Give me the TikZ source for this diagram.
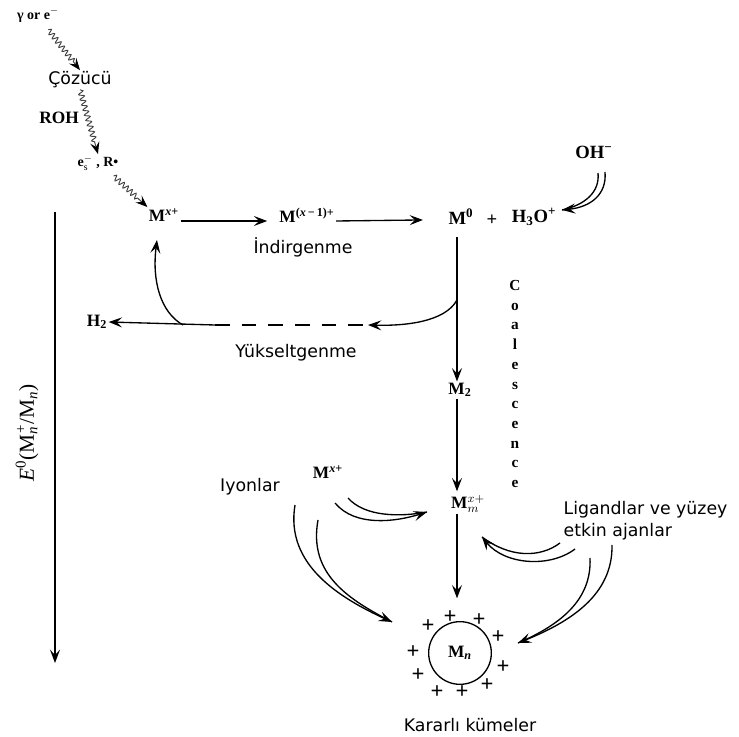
\documentclass[tikz,border=0pt]{standalone}
\usepackage{fontspec}
\setmainfont{Liberation Serif}
\newfontfamily\trfont{DejaVu Sans}
\usetikzlibrary{arrows.meta,decorations.pathmorphing}
\newcommand{\xsup}[1]{\textsuperscript{\textit{x}#1}}
\begin{document}
\begin{tikzpicture}[x=0.75pt,y=-0.75pt,
  chem/.style={font=\bfseries\fontsize{13}{15}\selectfont, inner sep=1pt},
  chemL/.style={font=\bfseries\fontsize{14}{16}\selectfont, inner sep=1pt},
  small/.style={font=\bfseries\fontsize{10.5}{12}\selectfont, inner sep=1pt},
  trlbl/.style={font=\trfont\fontsize{13}{16.5}\selectfont, inner sep=1pt},
  tip/.style={-{Stealth[length=10pt,width=7.5pt,inset=4pt]}},
  ln/.style={line width=1pt},
  arr/.style={ln,tip},
  wavy/.style={line width=0.7pt, draw=black!75, -{Stealth[length=9pt,width=7pt,inset=3.5pt,color=black]}, decorate, decoration={snake, segment length=4pt, amplitude=2pt, post length=8pt}},
  pl/.style={font=\bfseries\fontsize{17}{17}\selectfont, inner sep=0pt}
]
\useasboundingbox (0,0) rectangle (739,737);

% top chain
\node[small] (src) at (38,15) {γ or e$^{-}$};
\node[trlbl] (solv) at (80,80) {Çözücü};
\node[chem] (roh) at (59,118) {ROH};
\node[small] (es) at (98,163) {e$^{-}_{\mathrm{s}}$ , R\textbullet};
\node[chem] (Mx) at (164,215) {M\xsup{+}};
\node[chem] (Mx1) at (307,215) {M\textsuperscript{(\textit{x}\,−\,1)+}};
\node[trlbl] (ind) at (303,247) {İndirgenme};
\node[chemL] (M0) at (461,217) {M\textsuperscript{0}};
\node[chemL] (plus) at (492,220) {+};
\node[chemL] (H3O) at (534,217) {H\textsubscript{3}O\textsuperscript{+}};
\node[chemL] (OH) at (594,152) {OH\textsuperscript{−}};

\draw[wavy] (src.-40) ++(0,6) -- (solv.north);
\draw[wavy] (solv.south) -- (es.north);
\draw[wavy] (es.-30) ++(0,4) -- (Mx.north west);

% horizontal main arrows
\draw[arr, shorten >=8pt] ([yshift=-4.5pt]Mx.east) -- ([yshift=-4.5pt]Mx1.west);
\draw[arr, shorten >=18pt] ([yshift=-4.5pt]Mx1.east) -- ([yshift=-2pt]M0.west);

% OH- double curve
\coordinate (ohend) at (562,210);
\coordinate (oh1) at (598,173);
\coordinate (oh2) at (605,172);
\draw[ln] (oh1) .. controls (600,192) and (585,205) .. (ohend);
\draw[arr] (oh2) .. controls (607,195) and (590,207) .. (ohend);

% oxidation line
\node[chem] (H2) at (97,322) {H\textsubscript{2}};
\coordinate (junc) at (215,325);
\coordinate (upst) at (183,325);
\coordinate (tipc) at (368,325);
\coordinate (mxb) at (157,240);
\draw[arr] (junc) -- (H2.east);
\draw[ln, dash pattern=on 11pt off 9pt] (junc) -- (tipc);
\draw[arr] (upst) .. controls (160,312) and (152,280) .. (mxb);
\node[trlbl] (yuk) at (296,353) {Yükseltgenme};

% vertical chain
\coordinate (vtop) at (457,237);
\coordinate (vbr) at (457,300);
\node[chem] (M2) at (460,390) {M\textsubscript{2}};
\node[chem] (Mm) at (468,504) {M$^{x\mathbf{+}}_{m}$};
\draw[arr] (vtop) -- (vtop |- M2.north);
\draw[arr] (vbr) .. controls (445,322) and (405,326) .. (tipc);
\draw[arr, shorten >=2pt] (M2.south -| vtop) -- (Mm.north -| vtop);

\node[font=\bfseries\fontsize{11.5}{14.8}\selectfont, align=center, inner sep=0pt] (coal) at (515,384)
  {C\\o\\a\\l\\e\\s\\c\\e\\n\\c\\e};

% cluster
\node[draw, circle, ln, minimum size=47pt, inner sep=0pt, font=\bfseries\fontsize{13}{15}\selectfont] (Mn) at (460,653) {M\textsubscript{\textit{n}}};
\draw[arr, shorten >=17pt] (Mm.south -| vtop) -- (Mn.north -| vtop);
\node[pl] (p1) at (428,626) {+};
\node[pl] (p2) at (450,617) {+};
\node[pl] (p3) at (479,620) {+};
\node[pl] (p4) at (498,637) {+};
\node[pl] (p5) at (413,652) {+};
\node[pl] (p6) at (503,667) {+};
\node[pl] (p7) at (418,675) {+};
\node[pl] (p8) at (487,685) {+};
\node[pl] (p9) at (437,692) {+};
\node[pl] (p10) at (462,692) {+};
\node[trlbl] (kar) at (470,725) {Kararlı kümeler};

% ions
\node[trlbl] (iyon) at (250,487) {Iyonlar};
\node[chem] (Mx2) at (328,472) {M\xsup{+}};
\coordinate (a1) at (335,503);
\coordinate (a2) at (348,498);
\coordinate (mmL) at (427,512);
\draw[ln] (a2) .. controls (365,517) and (400,517) .. (mmL);
\draw[arr] (a1) .. controls (355,527) and (395,522) .. (mmL);
\coordinate (b1) at (295,505);
\coordinate (b2) at (318,520);
\coordinate (cl) at (392,622);
\draw[ln] (b2) .. controls (308,575) and (350,600) .. (cl);
\draw[arr] (b1) .. controls (285,565) and (340,598) .. (cl);

% ligands
\node[trlbl, align=left, anchor=west] (lig) at (562,521) {Ligandlar ve yüzey\\etkin ajanlar};
\coordinate (l1) at (560,543);
\coordinate (l2) at (575,549);
\coordinate (l3) at (590,558);
\coordinate (l4) at (612,545);
\coordinate (mmR) at (482,537);
\coordinate (cr) at (518,643);
\draw[ln] (l1) .. controls (540,558) and (510,558) .. (mmR);
\draw[arr] (l2) .. controls (550,568) and (505,565) .. (mmR);
\draw[ln] (l3) .. controls (592,600) and (560,625) .. (cr);
\draw[arr] (l4) .. controls (613,595) and (570,622) .. (cr);

% potential axis
\coordinate (axt) at (55,212);
\coordinate (axb) at (55,663);
\draw[arr] (axt) -- (axb);
\node[rotate=90, font=\fontsize{16}{18}\selectfont] (Elbl) at (27,433) {\textit{E}\textsuperscript{0}(M\textsubscript{\textit{n}}\kern-0.35em\textsuperscript{+}/M\textsubscript{\textit{n}})};
\end{tikzpicture}
\end{document}
